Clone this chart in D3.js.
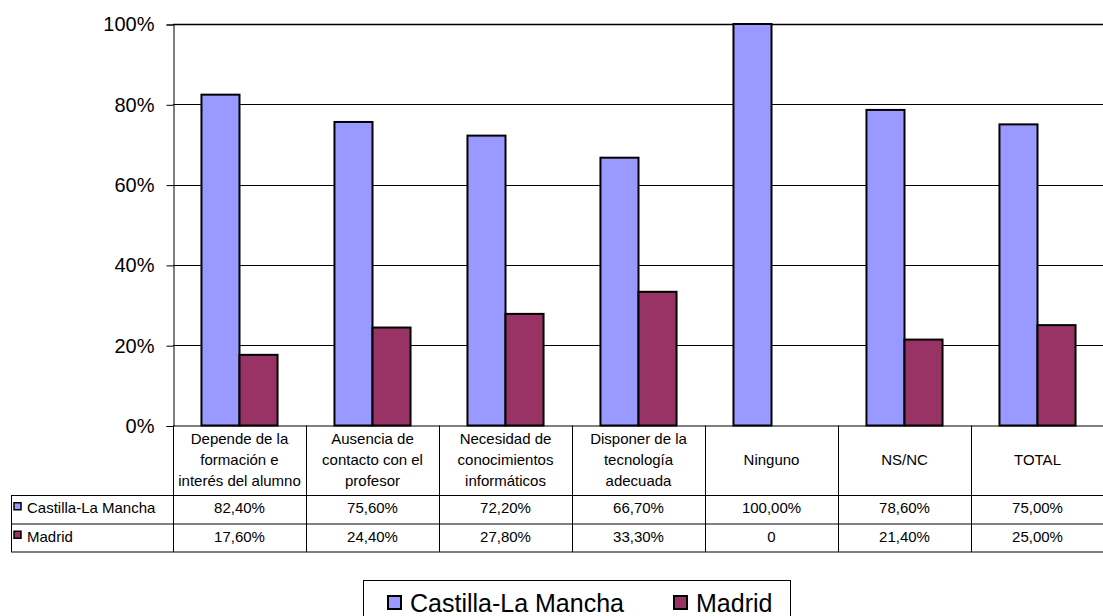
<!DOCTYPE html>
<html>
<head>
<meta charset="utf-8">
<script src="https://cdn.jsdelivr.net/npm/d3@7"></script>
<style>
  html, body { margin: 0; padding: 0; background: #fff; }
  svg { display: block; font-family: Arial, "Liberation Sans", sans-serif; }
</style>
</head>
<body>
<svg id="chart" width="1103" height="616"></svg>
<script>
const categories = [
  "Depende de la\nformación e\ninterés del alumno",
  "Ausencia de\ncontacto con el\nprofesor",
  "Necesidad de\nconocimientos\ninformáticos",
  "Disponer de la\ntecnología\nadecuada",
  "Ninguno",
  "NS/NC",
  "TOTAL"
];
const seriesNames = ["Castilla-La Mancha", "Madrid"];
const castillaValues = [82.4, 75.6, 72.2, 66.7, 100, 78.6, 75.0];
const madridValues = [17.6, 24.4, 27.8, 33.3, 0, 21.4, 25.0];
const castillaLabels = ["82,40%", "75,60%", "72,20%", "66,70%", "100,00%", "78,60%", "75,00%"];
const madridLabels = ["17,60%", "24,40%", "27,80%", "33,30%", "0", "21,40%", "25,00%"];
const yTicks = [0, 20, 40, 60, 80, 100];
const yTickLabels = ["0%", "20%", "40%", "60%", "80%", "100%"];
const colors = ["#9999FF", "#993366"];

(function () {
const svg = d3.select("#chart");
const pLeft = 173, pRight = 1104, pTop = 24, pBottom = 425.5;

const x0 = d3.scaleBand().domain(d3.range(categories.length)).range([pLeft, pRight]).padding(0);
const bw = x0.bandwidth();
const barW = bw * 0.286;
const gap = (bw - 2 * barW) / 2;
const x1 = d3.scaleBand().domain(seriesNames).range([gap, bw - gap]).padding(0);
const y = d3.scaleLinear().domain([0, 100]).range([pBottom, pTop]);

// gridlines
svg.append("g").selectAll("line").data(yTicks.filter(d => d > 0)).join("line")
  .attr("x1", pLeft).attr("x2", pRight)
  .attr("y1", d => Math.round(y(d)) + 0.5).attr("y2", d => Math.round(y(d)) + 0.5)
  .attr("stroke", "#000").attr("stroke-width", d => d === 100 ? 1.6 : 1);

// y axis
const yAxis = d3.axisLeft(y).tickValues(yTicks).tickFormat((d, i) => yTickLabels[i]).tickSize(7).tickPadding(12);
const gy = svg.append("g").attr("transform", `translate(${pLeft + 0.5},0.5)`).call(yAxis);
gy.select(".domain").attr("stroke", "#000");
gy.selectAll(".tick line").attr("stroke", "#000");
gy.selectAll(".tick text").attr("font-size", 20).attr("fill", "#000")
  .attr("font-family", "Arial, 'Liberation Sans', sans-serif");

// bars
const seriesData = [castillaValues, madridValues];
seriesData.forEach((vals, si) => {
  svg.append("g").selectAll("rect")
    .data(vals.map((v, i) => ({v, i})).filter(d => d.v > 0))
    .join("rect")
    .attr("x", d => x0(d.i) + x1(seriesNames[si]))
    .attr("y", d => y(d.v))
    .attr("width", x1.bandwidth())
    .attr("height", d => y(0) - y(d.v))
    .attr("fill", colors[si])
    .attr("stroke", "#000")
    .attr("stroke-width", 2);
});

// x axis line
svg.append("line").attr("x1", pLeft).attr("x2", pRight).attr("y1", pBottom + 0.5).attr("y2", pBottom + 0.5)
  .attr("stroke", "#000");

// data table
const rowTops = [pBottom, 495, 523.5, 552];
const tableLeft = 11;
const tg = svg.append("g");
tg.append("line").attr("x1", tableLeft).attr("x2", pRight).attr("y1", rowTops[1] + 0.5).attr("y2", rowTops[1] + 0.5).attr("stroke", "#000");
tg.append("line").attr("x1", tableLeft).attr("x2", pRight).attr("y1", rowTops[2] + 0.5).attr("y2", rowTops[2] + 0.5).attr("stroke", "#000");
tg.append("line").attr("x1", tableLeft).attr("x2", pRight).attr("y1", rowTops[3]).attr("y2", rowTops[3]).attr("stroke", "#808080").attr("stroke-width", 2);
tg.append("line").attr("x1", tableLeft + 0.5).attr("x2", tableLeft + 0.5).attr("y1", rowTops[1]).attr("y2", rowTops[3]).attr("stroke", "#000");
tg.append("line").attr("x1", pLeft + 0.5).attr("x2", pLeft + 0.5).attr("y1", pBottom).attr("y2", rowTops[3]).attr("stroke", "#000");
d3.range(1, categories.length).forEach(i => {
  tg.append("line").attr("x1", Math.round(x0(i)) + 0.5).attr("x2", Math.round(x0(i)) + 0.5)
    .attr("y1", pBottom).attr("y2", rowTops[3]).attr("stroke", "#000");
});
const headerMid = (rowTops[0] + rowTops[1]) / 2;
const lh = 20.8;
categories.forEach((c, i) => {
  const lines = c.split("\n");
  const t = tg.append("text").attr("text-anchor", "middle").attr("font-size", 15).attr("fill", "#000");
  lines.forEach((ln, k) => {
    t.append("tspan").attr("x", x0(i) + bw / 2)
      .attr("y", headerMid + (k - (lines.length - 1) / 2) * lh + 5)
      .text(ln);
  });
});
[castillaLabels, madridLabels].forEach((labels, si) => {
  const cy = (rowTops[si + 1] + rowTops[si + 2]) / 2 + 4;
  labels.forEach((lab, i) => {
    tg.append("text").attr("x", x0(i) + bw / 2).attr("y", cy).attr("text-anchor", "middle")
      .attr("font-size", 15).attr("fill", "#000").text(lab);
  });
  tg.append("rect").attr("x", 14).attr("y", cy - 10.5).attr("width", 7).attr("height", 7)
    .attr("fill", colors[si]).attr("stroke", "#000").attr("stroke-width", 1.5);
  tg.append("text").attr("x", 27).attr("y", cy).attr("font-size", 15).attr("fill", "#000").text(seriesNames[si]);
});

// legend
const lg = svg.append("g");
lg.append("rect").attr("x", 363.5).attr("y", 580.5).attr("width", 427).attr("height", 60)
  .attr("fill", "#fff").attr("stroke", "#000");
const legendItems = [{x: 388, tx: 410}, {x: 674, tx: 696}];
legendItems.forEach((it, si) => {
  lg.append("rect").attr("x", it.x).attr("y", 596).attr("width", 13).attr("height", 13)
    .attr("fill", colors[si]).attr("stroke", "#000").attr("stroke-width", 2);
  lg.append("text").attr("x", it.tx).attr("y", 611.5).attr("font-size", 25).attr("fill", "#000").text(seriesNames[si]);
});
})();
</script>
</body>
</html>
